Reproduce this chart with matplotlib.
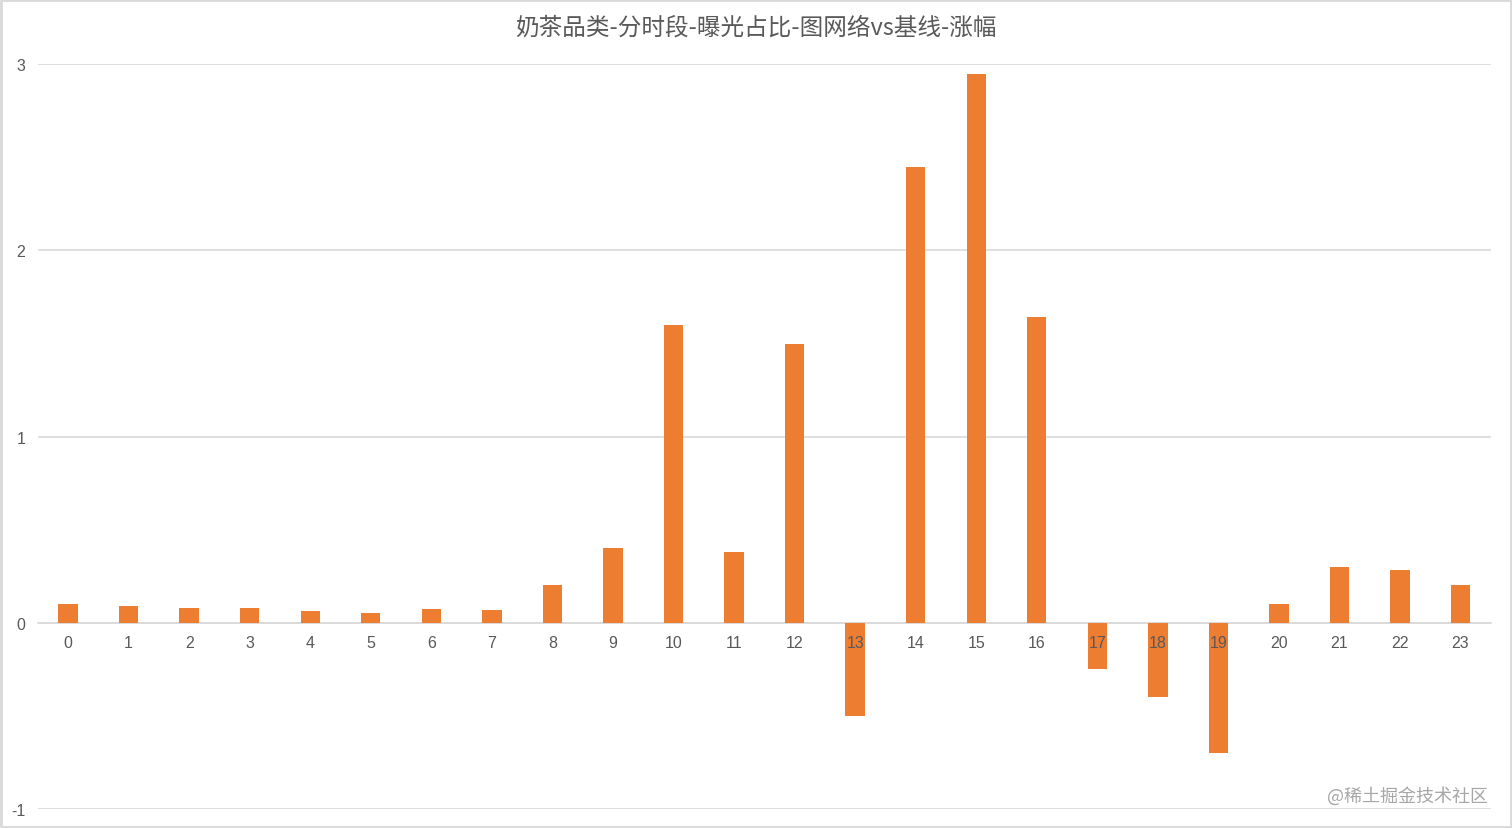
import matplotlib
matplotlib.use("Agg")
import matplotlib.pyplot as plt
from matplotlib.patches import Rectangle

plt.rcParams['font.family'] = ['Noto Sans CJK SC', 'DejaVu Sans']

# hours 0..23 and lift values
hours = [str(h) for h in range(24)]
lift = [0.10, 0.09, 0.08, 0.08, 0.06, 0.05, 0.07, 0.065, 0.20, 0.40,
        1.60, 0.38, 1.50, -0.50, 2.45, 2.95, 1.645, -0.25, -0.40, -0.70,
        0.10, 0.30, 0.28, 0.20]
y_ticks = [-1, 0, 1, 2, 3]

title = '奶茶品类-分时段-曝光占比-图网络vs基线-涨幅'
watermark = '@稀土掘金技术社区'

bar_color = '#ED7D31'
text_color = '#595959'
grid_color = '#D9D9D9'

fig = plt.figure(figsize=(15.12, 8.29), dpi=100)
ax = fig.add_axes([0.025, 0.0235, 0.961, 0.8975])

x = list(range(len(hours)))
ax.bar(x, lift, width=0.32, color=bar_color, zorder=2)

ax.set_xlim(-0.5, len(hours) - 0.5)
ax.set_ylim(-1, 3)
ax.set_yticks(y_ticks)
ax.set_yticklabels([str(t) for t in y_ticks])
ax.yaxis.grid(True, color=grid_color, linewidth=1.2, zorder=0)
ax.set_axisbelow(True)

ax.set_xticks(x)
ax.set_xticklabels(hours)

for s in ['top', 'right', 'left']:
    ax.spines[s].set_visible(False)
ax.spines['bottom'].set_position(('data', 0))
ax.spines['bottom'].set_color(grid_color)
ax.spines['bottom'].set_linewidth(1.2)
ax.spines['bottom'].set_zorder(1)

ax.tick_params(axis='x', length=0, pad=9, labelsize=11.5, labelcolor=text_color)
ax.tick_params(axis='y', length=0, pad=9, labelsize=11.5, labelcolor=text_color)
for lbl in ax.get_xticklabels() + ax.get_yticklabels():
    lbl.set_fontfamily(['Liberation Sans', 'DejaVu Sans'])
ax.xaxis.set_zorder(5)

fig.text(0.5, 0.966, title, ha='center', va='center', fontsize=17, color=text_color)
fig.text(0.984, 0.04, watermark, ha='right', va='center', fontsize=13, color='#A6A6A6')

fig.patches.append(Rectangle((0.0005, 0.001), 0.999, 0.998, transform=fig.transFigure,
                             fill=False, edgecolor=grid_color, linewidth=2))

fig.savefig('out.png', dpi=100)
